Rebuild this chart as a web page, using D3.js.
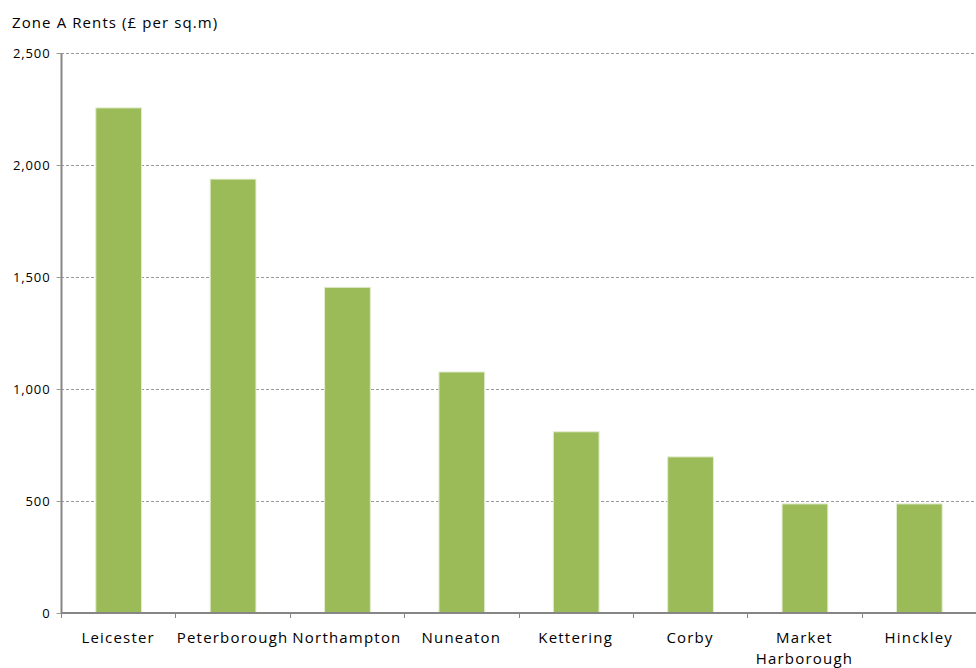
<!DOCTYPE html>
<html><head><meta charset="utf-8">
<script src="https://cdn.jsdelivr.net/npm/d3@7"></script>
<style>
html,body{margin:0;padding:0;background:#fff;}
text{font-family:"Open Sans","Noto Sans",sans-serif;fill:#000;}
</style></head>
<body>
<svg id="chart" width="976" height="668"></svg>
<script>
const categories = ["Leicester","Peterborough","Northampton","Nuneaton","Kettering","Corby","Market Harborough","Hinckley"];
const rents = [2255,1937,1454,1076,809,697,487,487];
const yTicks = [0,500,1000,1500,2000,2500];
const title = "Zone A Rents (£ per sq.m)";

(function(){
const svg = d3.select("#chart");
const mLeft = 61, mRight = 976, mTop = 53, mBottom = 613;

const x = d3.scaleBand().domain(categories).range([mLeft, mRight]).padding(0);
const y = d3.scaleLinear().domain([0,2500]).range([mBottom, mTop]);

// gridlines
svg.append("g").selectAll("line").data(yTicks.filter(d=>d>0)).join("line")
  .attr("x1", mLeft).attr("x2", mRight)
  .attr("y1", d=>Math.round(y(d))+0.5).attr("y2", d=>Math.round(y(d))+0.5)
  .attr("stroke","#9a9a9a").attr("stroke-width",1).attr("stroke-dasharray","3,2");

// bars
const bw = x.bandwidth()*0.4;
svg.append("g").selectAll("rect").data(categories).join("rect")
  .attr("x", (d)=>x(d)+x.bandwidth()/2-bw/2+0.5)
  .attr("y", (d,i)=>y(rents[i]))
  .attr("width", bw)
  .attr("height", (d,i)=>y(0)-y(rents[i]))
  .attr("fill","#9bbb59")
  .attr("stroke","#e3ecd0").attr("stroke-width",1);

// y axis
const yAxis = d3.axisLeft(y).tickValues(yTicks).tickSize(5).tickPadding(6)
  .tickFormat(d3.format(","));
const gy = svg.append("g").attr("transform",`translate(${mLeft+0.5},0)`).call(yAxis);
gy.select(".domain").attr("stroke","#868686").attr("stroke-width",2).attr("d",`M0,${mTop}V${mBottom}`);
gy.selectAll(".tick line").attr("stroke","#9a9a9a");
gy.selectAll(".tick text").style("font-size","13px").style("letter-spacing","0.9px").attr("fill","#000");

// x axis
const gx = svg.append("g").attr("transform",`translate(0,${mBottom})`);
gx.append("line").attr("x1",mLeft).attr("x2",mRight).attr("y1",0).attr("y2",0)
  .attr("stroke","#868686").attr("stroke-width",2);
const bounds = categories.map(d=>x(d));
gx.selectAll("line.tk").data(bounds).join("line").attr("class","tk")
  .attr("x1",d=>Math.round(d)+0.5).attr("x2",d=>Math.round(d)+0.5)
  .attr("y1",0).attr("y2",5).attr("stroke","#868686").attr("stroke-width",1);

// category labels (Market Harborough wraps onto two lines)
const labelLines = categories.map(d => d==="Market Harborough" ? ["Market","Harborough"] : [d]);
const lineItems = [];
categories.forEach((d,i)=>labelLines[i].forEach((p,j)=>lineItems.push({cat:d, text:p, line:j})));
gx.selectAll("text.cat").data(lineItems).join("text").attr("class","cat")
  .attr("text-anchor","middle")
  .style("font-size","15px").style("letter-spacing","1.2px")
  .attr("x", d=>x(d.cat)+x.bandwidth()/2)
  .attr("y", d=>30 + d.line*21)
  .text(d=>d.text);

// title
svg.append("text").attr("x",12).attr("y",28).style("font-size","15px").style("letter-spacing","1.1px").text(title);
})();
</script>
</body></html>
